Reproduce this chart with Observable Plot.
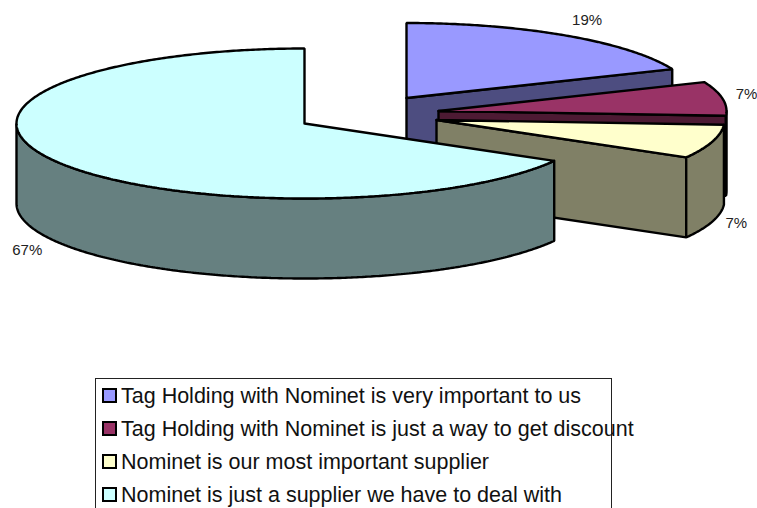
<!DOCTYPE html>
<html>
<head>
<meta charset="utf-8">
<script src="https://cdn.jsdelivr.net/npm/d3@7"></script>
<script src="https://cdn.jsdelivr.net/npm/@observablehq/plot@0.6"></script>
<style>
html,body{margin:0;padding:0;background:#fff;overflow:hidden;width:757px;height:508px}
#chart svg{display:block}
#legend{position:absolute;left:95px;top:378px;width:515px;height:160px;border:1px solid #222;box-sizing:content-box;font:21.5px "Liberation Sans",Arial,sans-serif;color:#111}
.row{position:absolute;left:6px;height:33px;line-height:33px;white-space:nowrap}
.sw{display:inline-block;width:11px;height:11px;border:2px solid #000;margin-right:4px;vertical-align:0px}
</style>
</head>
<body>
<div id="chart"></div>
<div id="legend"></div>
<script>
// data
const labels = [
  "Tag Holding with Nominet is very important to us",
  "Tag Holding with Nominet is just a way to get discount",
  "Nominet is our most important supplier",
  "Nominet is just a supplier we have to deal with"
];
const values = [18.7, 7.3, 7.3, 66.7];
const topColors = ["#9999ff", "#993366", "#ffffcc", "#ccffff"];
const sideColors = ["#4d4d80", "#4d1a33", "#808066", "#668080"];

// layout of the exploded pie
const W = 757, H = 378;
const rx = 288, ry = 75, depth = 80;
const centers = [[406, 97.5], [438, 110.5], [436, 119.5], [304, 123]];
const labelOffsets = [[21, -15], [24, -4], [24, 2], [-28, 9]];

const total = d3.sum(values);
const cum = d3.cumsum(values);
const toAngle = v => (v / total) * 2 * Math.PI;
const slices = values.map((v, i) => ({
  i, value: v,
  a0: toAngle(i ? cum[i - 1] : 0),
  a1: toAngle(cum[i]),
  cx: centers[i][0], cy: centers[i][1]
}));
const pt = (s, a, dz = 0) => ({x: s.cx + rx * Math.sin(a), y: s.cy - ry * Math.cos(a) + dz});
const arc = (s, a0, a1, dz = 0) => {
  const n = Math.max(2, Math.ceil(Math.abs(a1 - a0) / 0.01));
  return d3.range(n + 1).map(k => pt(s, a0 + (a1 - a0) * k / n, dz));
};
const close = p => [...p, p[0]];
const ctr = (s, dz = 0) => ({x: s.cx, y: s.cy + dz});

const topFace = s => close([ctr(s), ...arc(s, s.a0, s.a1)]);
const radialWall = s => close([ctr(s), pt(s, s.a1), pt(s, s.a1, depth), ctr(s, depth)]);
const outerWall = s => {
  const a0 = Math.max(s.a0, Math.PI / 2), a1 = Math.min(s.a1, 3 * Math.PI / 2);
  if (a1 <= a0) return null;
  return close([...arc(s, a0, a1), ...arc(s, a1, a0, depth)]);
};

const poly = (data, fill) => Plot.line(data, {
  x: "x", y: "y", fill, stroke: "#000", strokeWidth: 2.4, strokeLinejoin: "miter", curve: "linear"
});

const marks = [];
slices.forEach(s => {
  if (s.i < 3) marks.push(poly(radialWall(s), sideColors[s.i]));
  const w = outerWall(s);
  if (w) marks.push(poly(w, sideColors[s.i]));
  marks.push(poly(topFace(s), topColors[s.i]));
});

const labelData = slices.map(s => {
  const m = (s.a0 + s.a1) / 2;
  const p = pt(s, m, Math.cos(m) < 0 && s.i !== 1 ? depth : 0);
  return {x: p.x + labelOffsets[s.i][0], y: p.y + labelOffsets[s.i][1], t: Math.round(s.value) + "%"};
});
marks.push(Plot.text(labelData, {
  x: "x", y: "y", text: "t", fontSize: 15, fill: "#222",
  fontFamily: "'Liberation Sans',Arial,sans-serif", textAnchor: "middle"
}));

const plot = Plot.plot({
  width: W, height: H, margin: 0,
  x: {domain: [0, W], range: [0, W], axis: null},
  y: {domain: [0, H], range: [0, H], axis: null},
  style: {background: "#fff"},
  marks
});
document.getElementById("chart").append(plot);

const legend = d3.select("#legend");
labels.forEach((l, i) => {
  const r = legend.append("div").attr("class", "row").style("top", (1 + i * 33) + "px");
  r.append("span").attr("class", "sw").style("background", topColors[i]);
  r.append("span").text(l);
});
</script>
</body>
</html>
